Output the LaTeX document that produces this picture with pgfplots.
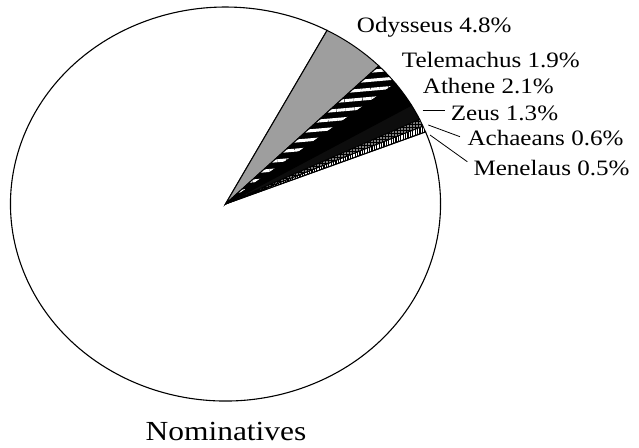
\documentclass[border=0pt]{standalone}
\usepackage{fontspec}
\setmainfont{Liberation Serif}[FakeStretch=1.14]
\usepackage{pgfplots}
\pgfplotsset{compat=1.18}
\usepackage{pgfplotstable}
\usetikzlibrary{patterns,patterns.meta}

% share of nominatives, in percent
\pgfplotstableread{
name       pct
Odysseus   4.8
Telemachus 1.9
Athene     2.1
Zeus       1.3
Achaeans   0.6
Menelaus   0.5
}\piedata

\def\startang{61.8}
\xdef\curang{\startang}
\pgfplotstableforeachcolumnelement{pct}\of\piedata\as\p{%
  \pgfmathsetmacro\nextang{\curang-3.6*\p}%
  \expandafter\xdef\csname angA\pgfplotstablerow\endcsname{\curang}%
  \expandafter\xdef\csname angB\pgfplotstablerow\endcsname{\nextang}%
  \xdef\curang{\nextang}%
}
\pgfmathsetmacro\restend{\startang-360}
\xdef\restend{\restend}

% arcs are kept out of the bounding box (their control points stick out)
\newcommand\slice[2]{%
  \path[overlay,#2] (axis cs:225.5,204) -- ++(\csname angA#1\endcsname:215pt and 197pt)
    arc[start angle=\csname angA#1\endcsname, end angle=\csname angB#1\endcsname,
        x radius=215pt, y radius=197pt] -- cycle;}

\newcommand\lab{\fontsize{22}{26}\selectfont}

\begin{document}
\begin{tikzpicture}
\begin{axis}[
  scale only axis,
  width=639pt, height=447pt,
  xmin=0, xmax=639, ymin=0, ymax=447,
  y dir=reverse,
  hide axis,
  clip=false,
]
\path (axis cs:0,0) rectangle (axis cs:639,447);
% the rest of the nominatives
\path[overlay, fill=white, draw=black, line width=1.1pt] (axis cs:225.5,204)
  -- ++(\curang:215pt and 197pt)
  arc[start angle=\curang, end angle=\restend, x radius=215pt, y radius=197pt] -- cycle;
\slice{0}{fill=black!38, draw=black, line width=1pt}
\slice{1}{preaction={fill=black}, pattern={Lines[angle=5,distance=9pt,line width=3pt]}, pattern color=white}
\slice{1}{draw=black, line width=1pt}
\slice{2}{fill=black, draw=black, line width=1pt}
\slice{3}{fill=black!95, draw=black, line width=1pt}
\slice{4}{preaction={fill=black}, pattern={Dots[distance=3pt,radius=0.9pt]}, pattern color=white}
\slice{4}{draw=black, line width=0.8pt}
\slice{5}{pattern={Lines[angle=90,distance=2.4pt,line width=1.1pt]}, pattern color=black}
\slice{5}{draw=black, line width=0.8pt}

\node[anchor=base west, inner sep=0, font=\lab] at (axis cs:356.7,32.7) {Odysseus 4.8\%};
\node[anchor=base west, inner sep=0, font=\lab] at (axis cs:401.7,67.3) {Telemachus 1.9\%};
\node[anchor=base west, inner sep=0, font=\lab] at (axis cs:422.7,93.3) {Athene 2.1\%};
\draw[line width=0.8pt] (axis cs:422.7,110) -- (axis cs:445,110);
\node[anchor=base west, inner sep=0, font=\lab] at (axis cs:450.7,120) {Zeus 1.3\%};
\draw[line width=0.8pt] (axis cs:428.3,125) -- (axis cs:460,136.7);
\node[anchor=base west, inner sep=0, font=\lab] at (axis cs:467.3,145) {Achaeans 0.6\%};
\draw[line width=0.8pt] (axis cs:430,135) -- (axis cs:467.3,161.7);
\node[anchor=base west, inner sep=0, font=\lab] at (axis cs:473.3,175) {Menelaus 0.5\%};
\node[anchor=base, inner sep=0, font=\fontsize{27.6}{32}\selectfont] at (axis cs:226,440) {Nominatives};
\end{axis}
\end{tikzpicture}
\end{document}
